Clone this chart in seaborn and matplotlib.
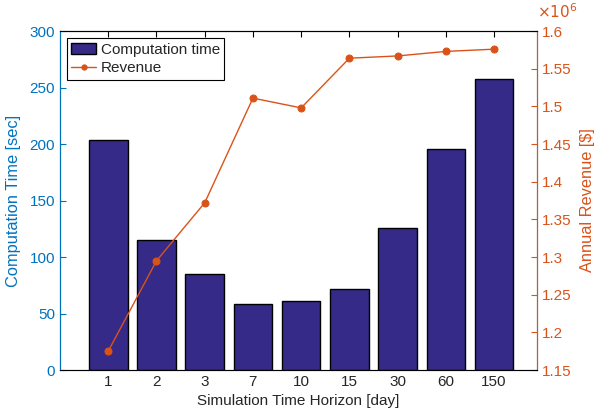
import numpy as np
import seaborn as sns
import matplotlib.pyplot as plt
from matplotlib.ticker import FuncFormatter, MultipleLocator
from matplotlib.patches import Patch
from matplotlib.lines import Line2D

sns.set_style('white')
plt.rcParams['font.family'] = ['Liberation Sans', 'DejaVu Sans']
plt.rcParams['font.size'] = 11

# data
horizon = ['1', '2', '3', '7', '10', '15', '30', '60', '150']
comp_time = [204, 115, 85, 58, 61.5, 72, 126, 196, 258]
revenue = [1.175e6, 1.295e6, 1.372e6, 1.511e6, 1.498e6, 1.564e6, 1.567e6, 1.573e6, 1.576e6]

blue = '#0072BD'
orange = '#D95319'
bar_col = '#352A87'

fig = plt.figure(figsize=(5.99, 4.2), dpi=100)
ax = fig.add_axes([0.1002, 0.119, 0.7963, 0.807])

sns.barplot(x=horizon, y=comp_time, ax=ax, color=bar_col, saturation=1,
            width=0.8, edgecolor='black', linewidth=1)
xl = (-1.0, 8.89)
ax.set_xlim(*xl)
ax.set_ylim(0, 300)
ax.yaxis.set_major_locator(MultipleLocator(50))
ax.set_xlabel('Simulation Time Horizon [day]', fontsize=11)
ax.set_ylabel('Computation Time [sec]', color=blue, fontsize=11.8, labelpad=6)
ax.tick_params(axis='y', colors=blue, direction='in', length=4)
ax.tick_params(axis='x', direction='in', length=4, top=True, colors='black')
ax.tick_params(axis='x', labelcolor='#262626')

ax2 = ax.twinx()
sns.lineplot(x=np.arange(len(horizon)), y=revenue, ax=ax2, color=orange,
             marker='o', markersize=5, markeredgecolor=orange, linewidth=1)
ax2.set_xlim(*xl)
ax2.set_ylim(1.15e6, 1.6e6)
ax2.yaxis.set_major_locator(MultipleLocator(0.05e6))
ax2.yaxis.set_major_formatter(FuncFormatter(lambda v, p: f'{v/1e6:g}'))
ax2.set_ylabel('Annual Revenue [\\$]', color=orange, fontsize=11.8, labelpad=6)
ax2.tick_params(axis='y', colors=orange, direction='in', length=4)
ax2.text(1.0, 1.03, r'$\times10^{6}$', transform=ax2.transAxes, color=orange,
         ha='left', va='bottom', fontsize=11)

for sp in ['top', 'bottom']:
    ax2.spines[sp].set_color('black')
ax2.spines['left'].set_color(blue)
ax2.spines['right'].set_color(orange)
ax.spines['bottom'].set_color(blue)
for a in (ax, ax2):
    for sp in a.spines.values():
        sp.set_linewidth(0.8)

handles = [Patch(facecolor=bar_col, edgecolor='black', label='Computation time'),
           Line2D([0], [0], color=orange, marker='o', markersize=3.5, linewidth=1, label='Revenue')]
leg = ax2.legend(handles=handles, loc='upper left', bbox_to_anchor=(0.008, 0.988),
                 frameon=True, fancybox=False, edgecolor='black', framealpha=1,
                 borderpad=0.3, handlelength=1.6, handletextpad=0.3, labelspacing=0.3,
                 borderaxespad=0.2)
leg.get_frame().set_linewidth(0.8)

fig.savefig('out.png', dpi=100)
